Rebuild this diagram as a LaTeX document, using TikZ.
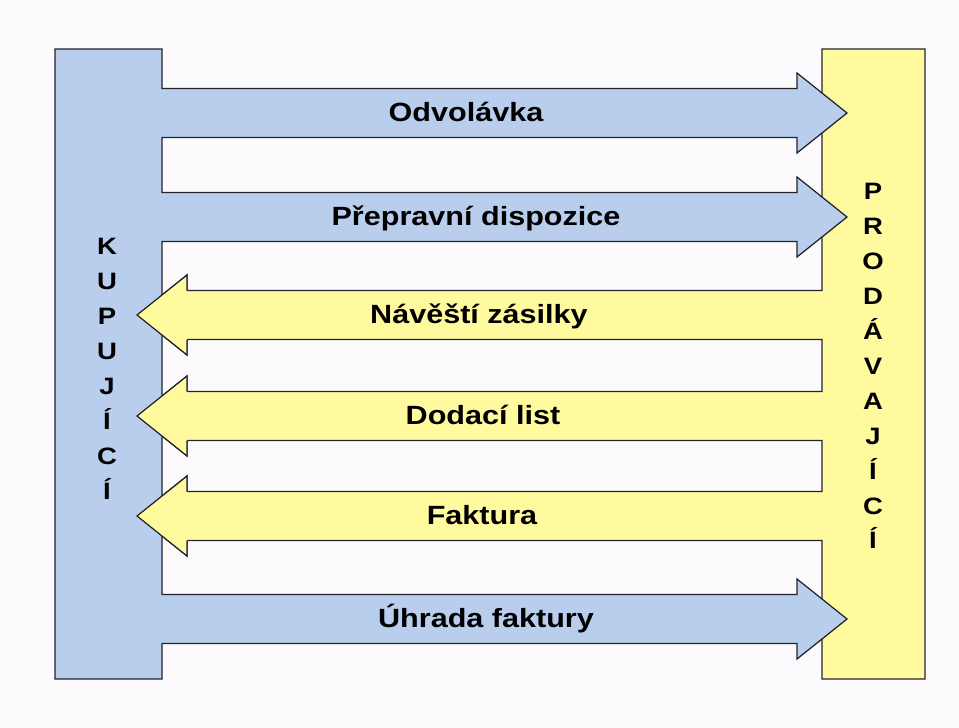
\documentclass[tikz,border=0pt]{standalone}
\usepackage{fontspec}
\setmainfont{Liberation Sans}
\usepackage{tikz}
\usetikzlibrary{arrows.meta}
\usepackage{xcolor}
\definecolor{kupblue}{RGB}{185,205,236}
\definecolor{prodyellow}{RGB}{255,250,158}
\definecolor{edgegray}{RGB}{35,35,45}
\definecolor{paper}{RGB}{253,250,253}

\begin{document}
\begin{tikzpicture}[x=0.02cm, y=-0.02cm, line width=0.7pt, line join=miter,
    bluebox/.style={draw=edgegray, fill=kupblue},
    yellowbox/.style={draw=edgegray, fill=prodyellow},
    lbl/.style={font=\bfseries\fontsize{15}{18}\selectfont, anchor=base, xscale=1.16, transform shape, inner sep=0pt},
    side/.style={font=\bfseries\fontsize{13.5}{19.9}\selectfont, align=center, xscale=1.16, transform shape, inner sep=0pt}]
  \fill[paper] (0,0) rectangle (959,727);
  \useasboundingbox (0,0) rectangle (959,727);
  \draw[yellowbox] (925,49) -- (822,49) -- (822,290.5) -- (187,290.5) -- (187,275) -- (137,315) -- (187,355) -- (187,339.5)
    -- (822,339.5) -- (822,391.5) -- (187,391.5) -- (187,376) -- (137,416) -- (187,456) -- (187,440.5)
    -- (822,440.5) -- (822,491.5) -- (187,491.5) -- (187,476) -- (137,516) -- (187,556) -- (187,540.5)
    -- (822,540.5) -- (822,679) -- (925,679) -- cycle;
  \draw[bluebox] (55,49) -- (162,49) -- (162,88.5) -- (797,88.5) -- (797,73) -- (847,113) -- (797,153) -- (797,137.5)
    -- (162,137.5) -- (162,192.5) -- (797,192.5) -- (797,177) -- (847,217) -- (797,257) -- (797,241.5)
    -- (162,241.5) -- (162,594.5) -- (797,594.5) -- (797,579) -- (847,619) -- (797,659) -- (797,643.5)
    -- (162,643.5) -- (162,679) -- (55,679) -- cycle;
  \foreach \c in {315,416,516}
    \draw[yellowbox] (187,\c-24.5) -- (187,\c-40) -- (137,\c) -- (187,\c+40) -- (187,\c+24.5);
  \node[lbl] (odv) at (466,121.5) {Odvolávka};
  \node[lbl] (disp) at (476,225.5) {Přepravní dispozice};
  \node[lbl] (navest) at (479,323.5) {Návěští zásilky};
  \node[lbl] (dodlist) at (483,424.5) {Dodací list};
  \node[lbl] (fakt) at (482,524.5) {Faktura};
  \node[lbl] (uhrada) at (486,627.5) {Úhrada faktury};
  \node[side] (kup) at (107,369) {K\\U\\P\\U\\J\\Í\\C\\Í};
  \node[side] (prod) at (873,366) {P\\R\\O\\D\\Á\\V\\A\\J\\Í\\C\\Í};
\end{tikzpicture}
\end{document}
